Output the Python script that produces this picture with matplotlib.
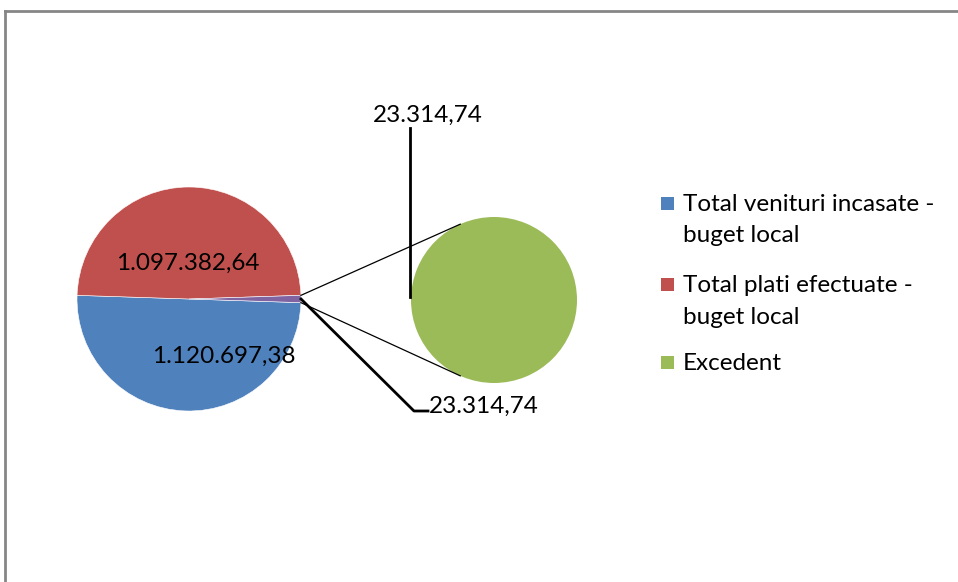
import matplotlib

matplotlib.use("Agg")
import matplotlib.pyplot as plt
import numpy as np
from matplotlib.lines import Line2D
from matplotlib.patches import Rectangle

# Date (lei)
categorii = ["Total venituri incasate - buget local",
             "Total plati efectuate - buget local",
             "Excedent"]
etichete_legenda = ["Total venituri incasate -\nbuget local",
                    "Total plati efectuate -\nbuget local",
                    "Excedent"]
valori = [1120697.38, 1097382.64, 23314.74]
culori = ["#4F81BD", "#C0504D", "#9BBB59"]
culoare_altele = "#8064A2"

W, H = 958, 582
FONT = "Lato"
FS = 17.5


def Y(y):
    """Converteste coordonata verticala din imagine (sus = 0)."""
    return H - y


def fmt(v):
    s = f"{v:,.2f}"
    return s.replace(",", "X").replace(".", ",").replace("X", ".")


plt.rcParams["font.family"] = [FONT, "DejaVu Sans"]
fig = plt.figure(figsize=(W / 100, H / 100), dpi=100)
ax = fig.add_axes([0, 0, 1, 1])

# pie principal: venituri, plati si "altele" (= suma pie-ului secundar)
secundar = valori[2:]
principal = valori[:2] + [sum(secundar)]
frac_alt = principal[2] / sum(principal)
start = -frac_alt * 360 / 2
c1, r1 = (189, Y(299)), 112
wedges, _ = ax.pie(principal, colors=culori[:2] + [culoare_altele],
                   startangle=start, counterclock=False, center=c1,
                   radius=r1, wedgeprops=dict(edgecolor="white", linewidth=0.4),
                   frame=True)

# pie secundar
c2, r2 = (494, Y(300)), 83
wedges2, _ = ax.pie(secundar, colors=culori[2:], center=c2, radius=r2,
                    startangle=90, frame=True)

ax.set_aspect("equal", adjustable="box")
ax.set_xlim(0, W)
ax.set_ylim(0, H)
ax.axis("off")

# rama graficului (marginile din dreapta si de jos sunt taiate)
fig.add_artist(Line2D([5 / W, 1.0], [Y(11) / H, Y(11) / H],
                      transform=fig.transFigure, color="#868686", lw=2))
fig.add_artist(Line2D([5 / W, 5 / W], [Y(11) / H, 0.0],
                      transform=fig.transFigure, color="#868686", lw=2))

# linii de legatura
a = np.deg2rad(-start)
p_sus = (c1[0] + r1 * np.cos(a), c1[1] + r1 * np.sin(a))
p_jos = (c1[0] + r1 * np.cos(a), c1[1] - r1 * np.sin(a))
b = np.deg2rad(114)
q_sus = (c2[0] + r2 * np.cos(b), c2[1] + r2 * np.sin(b))
q_jos = (c2[0] + r2 * np.cos(b), c2[1] - r2 * np.sin(b))
ax.plot([p_sus[0], q_sus[0]], [p_sus[1], q_sus[1]], color="black", lw=0.9)
ax.plot([p_jos[0], q_jos[0]], [p_jos[1], q_jos[1]], color="black", lw=0.9)

# etichete pie principal
ax.text(188, Y(270), fmt(valori[1]), ha="center", va="baseline", fontsize=FS)
ax.text(224, Y(363), fmt(valori[0]), ha="center", va="baseline", fontsize=FS)

# eticheta "altele" cu linie de ghidaj
ax.plot([c1[0] + r1, 414, 428], [c1[1], Y(411), Y(411)], color="black", lw=2)
ax.text(484, Y(413), fmt(principal[2]), ha="center", va="baseline", fontsize=FS)

# eticheta pie secundar cu linie de ghidaj
ax.plot([410, 410], [Y(297), Y(128)], color="black", lw=2)
ax.text(428, Y(122), fmt(secundar[0]), ha="center", va="baseline", fontsize=FS)

# legenda
baze = [211, 292, 370]
for culoare, eticheta, yb in zip(culori, etichete_legenda, baze):
    ax.add_patch(Rectangle((661, Y(yb - 1)), 13, 13, facecolor=culoare,
                           edgecolor="none"))
    for i, linie in enumerate(eticheta.split("\n")):
        ax.text(683, Y(yb + i * 31.5), linie, ha="left", va="baseline",
                fontsize=FS)

fig.savefig("out.png", dpi=100, facecolor="white")
